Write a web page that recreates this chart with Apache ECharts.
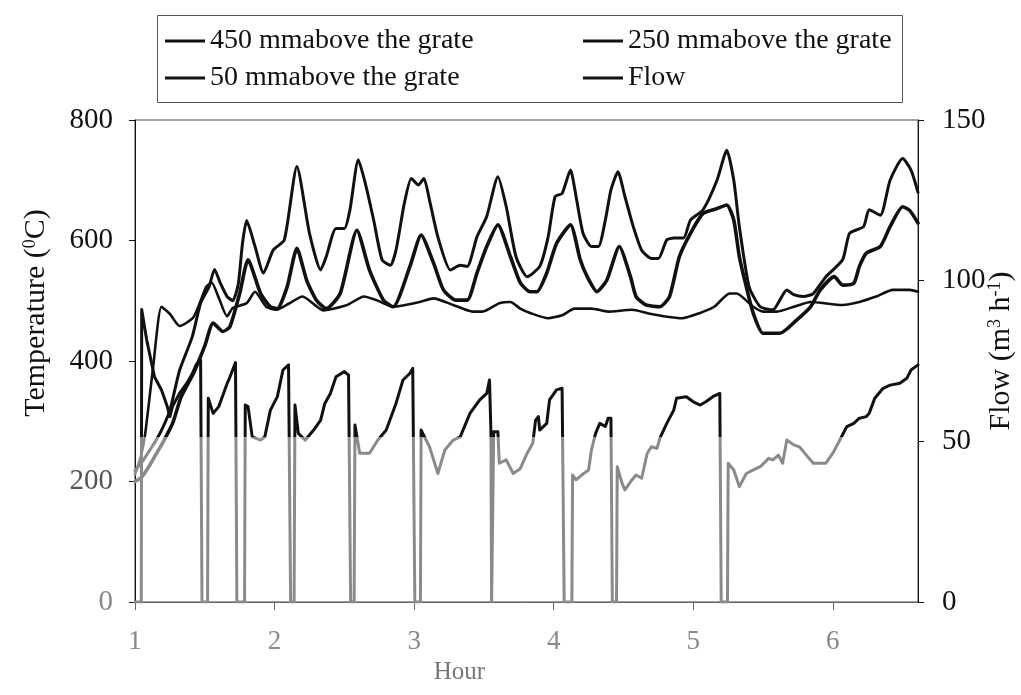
<!DOCTYPE html>
<html>
<head>
<meta charset="utf-8">
<script src="https://cdn.jsdelivr.net/npm/echarts@6/dist/echarts.min.js"></script>
<style>
html,body{margin:0;padding:0;background:#fff;}
#c{width:1021px;height:695px;}
</style>
</head>
<body>
<div id="c"></div>
<script>
// ---- data (hour, value) ----
var seriesNames = ['450 mmabove the grate', '250 mmabove the grate', '50 mmabove the grate', 'Flow'];
var xTicks = [1, 2, 3, 4, 5, 6];
var tempTicks = [0, 200, 400, 600, 800];
var flowTicks = [0, 50, 100, 150];

var t450 = [[1.00,218],[1.05,232],[1.10,250],[1.15,268],[1.20,290],[1.25,318],[1.32,385],[1.41,440],[1.47,496],[1.53,523],[1.57,552],[1.61,530],[1.66,507],[1.70,500],[1.74,528],[1.77,595],[1.80,633],[1.86,590],[1.92,546],[1.99,584],[2.07,601],[2.16,723],[2.25,612],[2.33,551],[2.37,573],[2.44,620],[2.50,620],[2.54,651],[2.60,734],[2.65,695],[2.71,634],[2.77,568],[2.83,559],[2.87,584],[2.93,662],[2.98,703],[3.03,692],[3.07,703],[3.11,667],[3.17,606],[3.26,551],[3.33,559],[3.38,557],[3.45,606],[3.52,640],[3.60,706],[3.66,656],[3.73,573],[3.81,540],[3.90,557],[3.96,606],[4.01,673],[4.06,678],[4.12,717],[4.16,673],[4.21,612],[4.27,590],[4.32,590],[4.37,634],[4.41,684],[4.46,714],[4.51,673],[4.57,623],[4.63,584],[4.70,570],[4.75,570],[4.81,601],[4.86,604],[4.93,604],[4.98,634],[5.07,651],[5.17,700],[5.24,750],[5.29,700],[5.33,623],[5.40,523],[5.48,490],[5.57,485],[5.67,518],[5.72,510],[5.79,507],[5.86,512],[5.95,540],[6.07,568],[6.12,612],[6.22,623],[6.26,651],[6.34,642],[6.41,700],[6.50,736],[6.56,717],[6.61,680]];

var t250 = [[1.00,200],[1.05,208],[1.10,225],[1.15,245],[1.20,265],[1.27,297],[1.33,340],[1.42,380],[1.50,425],[1.56,463],[1.63,449],[1.68,457],[1.75,512],[1.81,568],[1.90,512],[1.97,490],[2.02,487],[2.09,523],[2.16,587],[2.23,534],[2.30,501],[2.37,487],[2.47,512],[2.59,617],[2.68,551],[2.78,501],[2.85,490],[2.97,557],[3.05,609],[3.14,562],[3.21,518],[3.30,501],[3.38,501],[3.45,546],[3.52,590],[3.60,626],[3.69,573],[3.76,530],[3.83,515],[3.88,515],[3.95,546],[4.02,595],[4.12,626],[4.19,568],[4.24,540],[4.31,515],[4.38,534],[4.47,590],[4.55,540],[4.59,507],[4.66,493],[4.76,490],[4.83,507],[4.90,573],[4.98,612],[5.07,645],[5.17,653],[5.24,659],[5.29,634],[5.33,573],[5.38,523],[5.43,479],[5.50,446],[5.62,446],[5.74,468],[5.84,490],[5.91,518],[6.01,540],[6.07,526],[6.15,529],[6.19,557],[6.24,579],[6.34,590],[6.41,623],[6.50,656],[6.55,650],[6.61,629]];

var t50 = [[1.00,212],[1.04,240],[1.07,274],[1.13,390],[1.19,490],[1.25,478],[1.32,458],[1.42,473],[1.51,523],[1.55,530],[1.60,505],[1.66,474],[1.70,488],[1.80,496],[1.86,515],[1.94,490],[2.01,485],[2.10,495],[2.20,507],[2.35,484],[2.52,493],[2.64,507],[2.73,501],[2.85,490],[3.04,498],[3.14,504],[3.28,493],[3.42,482],[3.49,482],[3.61,496],[3.69,498],[3.76,487],[3.84,479],[3.96,471],[4.06,476],[4.15,487],[4.27,487],[4.39,482],[4.56,485],[4.68,479],[4.80,474],[4.92,471],[5.04,479],[5.15,490],[5.26,512],[5.31,512],[5.43,490],[5.50,482],[5.60,482],[5.72,490],[5.84,498],[6.07,493],[6.19,498],[6.31,507],[6.43,518],[6.55,518],[6.61,515]];

var flow = [[1.00,0],[1.045,0],[1.048,91],[1.084,81.5],[1.14,70],[1.19,66],[1.23,61],[1.25,57.7],[1.27,61],[1.32,65],[1.37,68],[1.41,71],[1.44,74],[1.47,75.3],[1.48,0],[1.52,0],[1.525,63.4],[1.56,58.7],[1.60,60.8],[1.66,68],[1.68,70],[1.72,74.5],[1.73,0],[1.785,0],[1.79,61.3],[1.81,60.8],[1.84,51.4],[1.90,50.4],[1.93,51.4],[1.97,59.7],[2.02,63.9],[2.06,72.2],[2.10,73.8],[2.115,0],[2.14,0],[2.146,61.3],[2.17,52.5],[2.22,50.4],[2.28,53.5],[2.33,56.6],[2.36,61.8],[2.40,64.9],[2.44,70.1],[2.50,71.7],[2.53,70.6],[2.545,0],[2.57,0],[2.576,55.1],[2.61,46.3],[2.68,46.3],[2.74,50.4],[2.80,53.5],[2.87,61.8],[2.92,69.1],[2.97,71.2],[2.99,72.7],[3.005,0],[3.045,0],[3.05,53.5],[3.11,48.3],[3.17,40],[3.22,47.3],[3.28,50.4],[3.33,51.4],[3.40,58.7],[3.47,62.9],[3.52,64.9],[3.54,69.1],[3.55,53],[3.555,0],[3.565,0],[3.57,53],[3.60,53],[3.61,43.2],[3.66,44.2],[3.71,40],[3.76,41.5],[3.81,46.3],[3.85,49.4],[3.87,56.6],[3.89,57.7],[3.90,53.5],[3.95,55.6],[3.97,62.9],[4.02,66],[4.06,66.5],[4.075,0],[4.13,0],[4.135,39.5],[4.16,38],[4.20,39.5],[4.25,41.1],[4.27,47.3],[4.30,52.5],[4.33,55.6],[4.37,54.6],[4.39,57.2],[4.41,57.2],[4.42,0],[4.45,0],[4.455,42.1],[4.49,36.9],[4.51,34.9],[4.56,38],[4.59,39.5],[4.63,38.5],[4.67,46.3],[4.70,48.3],[4.74,47.8],[4.76,50.9],[4.81,55.6],[4.86,59.7],[4.88,63.4],[4.95,63.9],[5.00,62.3],[5.05,61.3],[5.09,62.3],[5.14,63.9],[5.19,64.9],[5.20,0],[5.245,0],[5.25,43.2],[5.29,41.1],[5.33,35.9],[5.38,40],[5.43,41.1],[5.48,42.1],[5.54,44.7],[5.57,44.2],[5.61,45.7],[5.64,43.2],[5.67,50.4],[5.72,48.9],[5.76,48.3],[5.81,45.7],[5.86,43.2],[5.95,43.2],[6.00,46.3],[6.05,50.4],[6.10,54.6],[6.15,55.6],[6.19,57.2],[6.24,57.7],[6.26,58.7],[6.30,63.4],[6.36,66.5],[6.41,67.5],[6.48,68.1],[6.53,69.6],[6.56,72.2],[6.61,73.8]];

// value on the temperature axis below which the scanned original turns grey
var greyBelowTemp = 274;

var FONT = 'Liberation Serif';
var INK = '#111';
var GRAY = '#8a8a8a';

var chart = echarts.init(document.getElementById('c'), null, {renderer: 'canvas'});

function lineSeries(name, data, width, yIdx, smooth) {
  return {
    name: name, type: 'line', data: data, yAxisIndex: yIdx,
    showSymbol: false, symbol: 'none', smooth: smooth,
    lineStyle: {width: width, color: INK, join: 'round', cap: 'round'},
    itemStyle: {color: INK},
    animation: false, z: 3
  };
}

var option = {
  animation: false,
  backgroundColor: '#fff',
  textStyle: {fontFamily: FONT},
  grid: {left: 135, right: 103, top: 120, bottom: 93, show: true, borderColor: '#444', borderWidth: 1,
         outerBoundsMode: 'none', containLabel: false},
  graphic: [{
    type: 'rect', left: 155, top: 13, z: 0,
    shape: {width: 745, height: 87},
    style: {fill: 'none', stroke: '#555', lineWidth: 1}
  }],
  legend: [{
    left: 160, top: 22, orient: 'vertical', itemGap: 9,
    itemWidth: 40, itemHeight: 3, icon: 'rect',
    itemStyle: {color: INK},
    textStyle: {fontFamily: FONT, fontSize: 28, color: INK},
    data: [seriesNames[0], seriesNames[2]]
  }, {
    left: 578, top: 22, orient: 'vertical', itemGap: 9,
    itemWidth: 40, itemHeight: 3, icon: 'rect',
    itemStyle: {color: INK},
    textStyle: {fontFamily: FONT, fontSize: 28, color: INK},
    data: [seriesNames[1], seriesNames[3]]
  }],
  xAxis: {
    type: 'value', min: 1, max: 6.61, interval: 1,
    name: 'Hour', nameLocation: 'middle', nameGap: 52,
    nameTextStyle: {fontFamily: FONT, fontSize: 25, color: '#777', padding: [0, 134, 0, 0]},
    axisLine: {lineStyle: {color: '#666', width: 1}},
    axisTick: {show: true, length: 8, lineStyle: {color: '#666'}},
    axisLabel: {
      fontFamily: FONT, fontSize: 27, color: '#888', margin: 26,
      showMaxLabel: false,
      formatter: function (v) { return xTicks.indexOf(Number(v)) >= 0 ? String(v) : ''; }
    },
    splitLine: {show: false}
  },
  yAxis: [{
    type: 'value', min: 0, max: 800, interval: 200, position: 'left',
    name: 'Temperature ({s|0}C)', nameLocation: 'middle', nameGap: 84, nameRotate: 90,
    nameTextStyle: {fontFamily: FONT, fontSize: 30, color: INK, padding: [0, 0, 0, 96],
      rich: {s: {fontFamily: FONT, fontSize: 18, verticalAlign: 'top', color: INK}}},
    axisLine: {show: true, lineStyle: {color: INK, width: 1}},
    axisTick: {show: true, length: 6, lineStyle: {color: INK}},
    axisLabel: {
      fontFamily: FONT, fontSize: 29, margin: 22,
      color: function (v) { v = Number(v); return v === 0 ? '#888' : (v === 200 ? '#555' : INK); },
      formatter: function (v) { return tempTicks.indexOf(Number(v)) >= 0 ? String(v) : ''; }
    },
    splitLine: {show: false}
  }, {
    type: 'value', min: 0, max: 150, interval: 50, position: 'right',
    name: 'Flow (m{s|3} h{s|-1})', nameLocation: 'middle', nameGap: 68, nameRotate: 90,
    nameMoveOverlap: false,
    nameTextStyle: {fontFamily: FONT, fontSize: 30, color: INK, padding: [0, 0, 0, 20],
      rich: {s: {fontFamily: FONT, fontSize: 18, verticalAlign: 'top', color: INK}}},
    axisLine: {show: true, lineStyle: {color: INK, width: 1}},
    axisTick: {show: true, length: 6, lineStyle: {color: INK}},
    axisLabel: {
      fontFamily: FONT, fontSize: 29, margin: 24, color: INK,
      formatter: function (v) { return flowTicks.indexOf(Number(v)) >= 0 ? String(v) : ''; }
    },
    splitLine: {show: false}
  }],
  series: [
    lineSeries(seriesNames[0], t450, 3, 0, 0.2),
    lineSeries(seriesNames[1], t250, 3.6, 0, 0.2),
    lineSeries(seriesNames[2], t50, 2.6, 0, 0.2),
    lineSeries(seriesNames[3], flow, 3, 1, false)
  ]
};
chart.setOption(option);

// scanned original: everything below a certain height is printed grey
var yCut = chart.convertToPixel({yAxisIndex: 0}, greyBelowTemp);
var H = chart.getHeight();
var f = yCut / H;
function inkGrad() {
  return {
    type: 'linear', x: 0, y: 0, x2: 0, y2: H, global: true,
    colorStops: [
      {offset: 0, color: INK}, {offset: f, color: INK},
      {offset: f, color: GRAY}, {offset: 1, color: GRAY}
    ]
  };
}
chart.setOption({
  series: [
    {lineStyle: {color: inkGrad()}},
    {lineStyle: {color: inkGrad()}},
    {lineStyle: {color: inkGrad()}},
    {lineStyle: {color: inkGrad()}}
  ]
});
</script>
</body>
</html>
